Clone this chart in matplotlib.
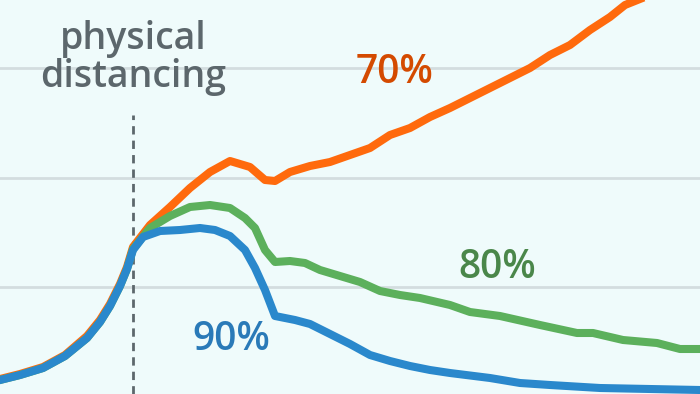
import numpy as np
import matplotlib.pyplot as plt

# values (x in days-ish units, y in grid units)
x70 = [0, 20, 43, 65, 87, 100, 110, 120, 127, 133, 150, 170, 190, 210, 230, 250, 265, 275, 290,
       310, 330, 350, 370, 390, 410, 430, 450, 470, 490, 510, 530, 550, 570, 590, 610, 625, 645]
y70 = [379, 374, 367, 355, 336, 320, 304, 284, 267, 247, 225, 207, 188, 172, 161, 167, 180, 181,
       172, 166, 162, 155, 148, 135, 128, 117, 108, 98, 88, 78, 68, 55, 45, 30, 17, 5, -3]

x80 = [0, 20, 43, 65, 87, 100, 110, 120, 127, 133, 150, 170, 190, 210, 230, 245, 255, 265, 275,
       290, 305, 320, 340, 360, 380, 400, 420, 450, 470, 500, 540, 577, 593, 623, 657, 680, 700]
y80 = [380, 375, 368, 356, 338, 322, 306, 286, 269, 249, 228, 216, 207, 205, 208, 218, 228, 250,
       262, 261, 263, 270, 276, 282, 291, 295, 298, 305, 312, 316, 325, 333, 333, 340, 343, 349, 349]

x90 = [0, 20, 43, 65, 87, 100, 110, 120, 127, 133, 143, 160, 180, 200, 215, 230, 245, 255, 265,
       275, 295, 310, 330, 350, 370, 390, 410, 430, 450, 490, 520, 550, 600, 650, 700]
y90 = [380, 375, 368, 356, 338, 322, 306, 286, 269, 250, 237, 231, 230, 228, 230, 236, 250, 268,
       290, 316, 320, 324, 334, 344, 355, 361, 366, 370, 373, 378, 383, 385, 388, 389, 390]


def to_units(py):
    return (396.5 - np.array(py)) / 109.5


bg = '#effbfb'
fig = plt.figure(figsize=(7, 3.94), dpi=100, facecolor=bg)
ax = fig.add_axes([0, 0, 1, 1], facecolor=bg)
ax.set_xlim(0, 700)
ax.set_ylim(to_units(394), to_units(0))

for g in [1, 2, 3]:
    ax.axhline(g, color='#d3dddf', lw=2, zorder=1)

ax.plot([133, 133], [to_units(394), to_units(115)], color='#5c676c', lw=2,
        ls=(0, (3, 2.2)), zorder=2)

lw = 5.8
ax.plot(x70, to_units(y70), color='#ff6a0d', lw=lw, solid_joinstyle='round', zorder=3)
ax.plot(x80, to_units(y80), color='#5cb05c', lw=lw, solid_joinstyle='round', zorder=4)
ax.plot(x90, to_units(y90), color='#2a88cc', lw=lw, solid_joinstyle='round', zorder=5)

font = 'Open Sans'
ax.text(133, to_units(58), 'physical\ndistancing', ha='center', va='center', fontsize=27,
        color='#5c676c', family=font, weight='semibold', linespacing=1.0)
ax.text(395, to_units(73), '70%', ha='center', va='center', fontsize=28,
        color='#d44a00', family=font, weight='semibold')
ax.text(497, to_units(268), '80%', ha='center', va='center', fontsize=28,
        color='#4a874a', family=font, weight='semibold')
ax.text(231, to_units(340), '90%', ha='center', va='center', fontsize=28,
        color='#2a7ab8', family=font, weight='semibold')

ax.axis('off')
fig.savefig('out.png', dpi=100, facecolor=bg)
